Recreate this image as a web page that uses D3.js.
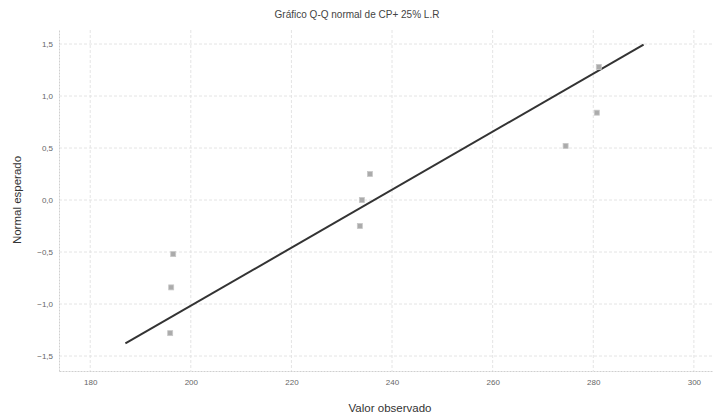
<!DOCTYPE html>
<html>
<head>
<meta charset="utf-8">
<script src="https://cdn.jsdelivr.net/npm/d3@7"></script>
<style>
  html, body { margin: 0; padding: 0; background: #fff; }
  svg { display: block; font-family: "Liberation Sans", Arial, sans-serif; }
</style>
</head>
<body>
<svg id="chart" width="715" height="418"></svg>
<script>
// Observed values of CP+ 25% L.R and their expected normal scores
const observed = [195.9, 196.1, 196.5, 233.6, 234.0, 235.6, 274.5, 280.7, 281.1];
const expected = [-1.28, -0.84, -0.52, -0.25, 0.00, 0.25, 0.52, 0.84, 1.28];

// Tick values for both axes
const xTicks = [180, 200, 220, 240, 260, 280, 300];
const yTicks = [-1.5, -1.0, -0.5, 0.0, 0.5, 1.0, 1.5];

// Horizontal extent of the reference line
const lineExtent = [187, 290];

const svg = d3.select("#chart");
const margin = { top: 30, right: 3, bottom: 47, left: 59 };
const W = 715, H = 418;

const x = d3.scaleLinear().domain([173.8, 303.6]).range([margin.left, W - margin.right]);
const y = d3.scaleLinear().domain([-1.644, 1.635]).range([H - margin.bottom, margin.top]);

const fmt = v => d3.format(".1f")(v).replace(".", ",");

// Grid lines
const grid = svg.append("g");
grid.selectAll("line.gx").data(xTicks).join("line")
  .attr("x1", d => x(d)).attr("x2", d => x(d))
  .attr("y1", margin.top).attr("y2", H - margin.bottom)
  .attr("stroke", "#e4e4e4").attr("stroke-width", 1).attr("stroke-dasharray", "3,2");
grid.selectAll("line.gy").data(yTicks).join("line")
  .attr("x1", margin.left).attr("x2", W - margin.right)
  .attr("y1", d => y(d)).attr("y2", d => y(d))
  .attr("stroke", "#e4e4e4").attr("stroke-width", 1).attr("stroke-dasharray", "3,2");

// Axes
const xAxis = d3.axisBottom(x).tickValues(xTicks).tickSize(0).tickPadding(8).tickFormat(d3.format("d"));
const yAxis = d3.axisLeft(y).tickValues(yTicks).tickSize(0).tickPadding(6).tickFormat(fmt);

const gx = svg.append("g").attr("transform", `translate(0,${H - margin.bottom})`).call(xAxis);
const gy = svg.append("g").attr("transform", `translate(${margin.left},0)`).call(yAxis);
[gx, gy].forEach(g => {
  g.select(".domain").attr("stroke", "#cfcfcf").attr("stroke-dasharray", "2,1");
  g.selectAll("text").attr("fill", "#666").attr("font-size", 8);
});

// Mean and standard deviation of the observed values define the reference line
const mean = d3.mean(observed);
const sd = d3.deviation(observed);
svg.append("line")
  .attr("x1", x(lineExtent[0])).attr("y1", y((lineExtent[0] - mean) / sd))
  .attr("x2", x(lineExtent[1])).attr("y2", y((lineExtent[1] - mean) / sd))
  .attr("stroke", "#333").attr("stroke-width", 2);

// Points
const pts = observed.map((v, i) => ({ x: v, y: expected[i] }));
svg.append("g").selectAll("rect").data(pts).join("rect")
  .attr("x", d => x(d.x) - 2.5).attr("y", d => y(d.y) - 2.5)
  .attr("width", 5).attr("height", 5)
  .attr("fill", "#ababab").attr("stroke", "#c8c8c8").attr("stroke-width", 0.8);

// Titles
svg.append("text").attr("x", 357).attr("y", 18).attr("text-anchor", "middle")
  .attr("font-size", 10).attr("fill", "#444").text("Gráfico Q-Q normal de CP+ 25% L.R");
svg.append("text").attr("x", 390).attr("y", 412).attr("text-anchor", "middle")
  .attr("font-size", 11.5).attr("fill", "#333").text("Valor observado");
svg.append("text").attr("transform", "translate(21,200) rotate(-90)").attr("text-anchor", "middle")
  .attr("font-size", 11.5).attr("fill", "#333").text("Normal esperado");
</script>
</body>
</html>
